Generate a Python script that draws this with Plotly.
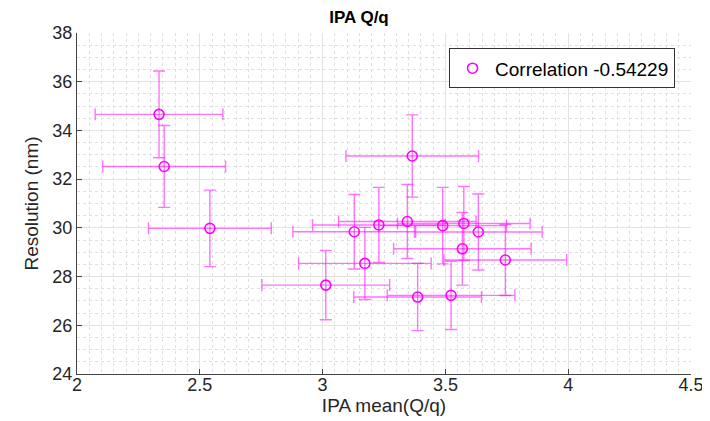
import plotly.graph_objects as go

# Data
ipa_mean = [2.334, 2.355, 2.541, 3.013, 3.129, 3.172, 3.229, 3.345, 3.365, 3.387, 3.489, 3.523, 3.569, 3.575, 3.634, 3.744]
resolution = [34.66, 32.52, 29.98, 27.65, 29.84, 28.54, 30.12, 30.26, 32.95, 27.16, 30.09, 27.23, 29.14, 30.18, 29.83, 28.68]
ipa_err = [0.26, 0.25, 0.25, 0.26, 0.25, 0.27, 0.27, 0.28, 0.27, 0.26, 0.26, 0.26, 0.28, 0.27, 0.26, 0.25]
res_err = [1.78, 1.68, 1.57, 1.42, 1.53, 1.48, 1.54, 1.52, 1.69, 1.38, 1.57, 1.40, 1.49, 1.52, 1.56, 1.46]
legend_label = "Correlation -0.54229"

x_ticks = [2, 2.5, 3, 3.5, 4, 4.5]
y_ticks = [24, 26, 28, 30, 32, 34, 36, 38]

FONT = "Liberation Sans, Arial, Helvetica, sans-serif"
MAG = "rgb(255,0,255)"
ERR = "rgba(255,0,255,0.55)"

fig = go.Figure()
fig.add_trace(go.Scatter(
    x=ipa_mean, y=resolution, mode="markers", name=legend_label,
    marker=dict(symbol="circle-open", size=10, color=MAG, line=dict(width=1.6, color=MAG)),
    error_x=dict(type="data", array=ipa_err, visible=True, color=ERR, thickness=1.4, width=6),
    error_y=dict(type="data", array=res_err, visible=True, color=ERR, thickness=1.4, width=6),
))

axis_common = dict(
    showline=True, linecolor="#444", linewidth=1, mirror=False,
    ticks="inside", ticklen=5, tickcolor="#444",
    showgrid=True, gridcolor="#e3e3e3", gridwidth=1, zeroline=False,
    tickfont=dict(family=FONT, size=18, color="#262626"),
    automargin=False,
)

# page body has an 8px default margin, so the figure is sized to fit the window
fig.update_layout(
    width=702, height=413,
    margin=dict(l=69, r=19, t=25, b=47),
    paper_bgcolor="white", plot_bgcolor="white",
    title=dict(text="<b>IPA Q/q</b>", x=0.5, xanchor="center", y=0.993, yanchor="top",
               pad=dict(t=0, b=0),
               font=dict(family=FONT, size=17, color="black")),
    xaxis=dict(range=[2, 4.5], tickvals=x_ticks, ticktext=[str(v) for v in x_ticks],
               ticklabelstandoff=-6,
               title=dict(text="IPA mean(Q/q)", font=dict(family=FONT, size=19, color="#262626"), standoff=0),
               minor=dict(dtick=0.05, tick0=2, showgrid=True, gridcolor="#e0e0e0", griddash="dot", gridwidth=1, ticks=""),
               **axis_common),
    yaxis=dict(range=[24, 38], tickvals=y_ticks, ticktext=[str(v) for v in y_ticks],
               title=dict(text="Resolution (nm)", font=dict(family=FONT, size=19, color="#262626"), standoff=8),
               minor=dict(dtick=0.5, tick0=24, showgrid=True, gridcolor="#e0e0e0", griddash="dot", gridwidth=1, ticks=""),
               **axis_common),
    showlegend=True,
    legend=dict(x=0.974, xanchor="right", y=0.955, yanchor="top",
                bgcolor="white", bordercolor="#333", borderwidth=1, itemwidth=35,
                font=dict(family=FONT, size=19, color="black")),
)

fig.write_html("out.html")
